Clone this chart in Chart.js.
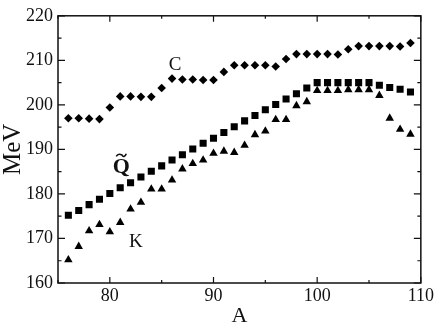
<!DOCTYPE html>
<html><head><meta charset="utf-8">
<script src="https://cdn.jsdelivr.net/npm/chart.js@4/dist/chart.umd.min.js"></script>
<style>html,body{margin:0;padding:0;background:#fff}#wrap{width:436px;height:327px}</style>
</head><body><div id="wrap"><canvas id="c" width="436" height="327"></canvas></div>
<script>
const massNumbers = [76,77,78,79,80,81,82,83,84,85,86,87,88,89,90,91,92,93,94,95,96,97,98,99,100,101,102,103,104,105,106,107,108,109];
const seriesC = [197.0,197.0,196.9,196.8,199.4,201.9,201.9,201.8,201.8,203.8,205.9,205.7,205.7,205.6,205.6,207.4,208.9,208.9,208.9,208.9,208.6,210.3,211.4,211.4,211.4,211.4,211.3,212.5,213.2,213.2,213.2,213.2,213.1,213.9];
const seriesQ = [175.2,176.3,177.6,178.8,180.1,181.4,182.5,183.8,185.1,186.3,187.6,188.8,190.1,191.4,192.5,193.8,195.1,196.4,197.6,198.9,200.1,201.3,202.5,203.8,205.0,205.0,205.0,205.0,205.0,205.0,204.4,203.9,203.5,202.9];
const seriesK = [165.2,168.2,171.7,173.1,171.5,173.6,176.6,178.1,181.1,181.1,183.1,185.6,186.8,187.6,189.1,189.6,189.3,190.9,193.3,194.1,196.7,196.7,199.8,200.7,203.2,203.2,203.2,203.4,203.4,203.4,202.1,197.0,194.5,193.4];
const xTickLabels = [80,90,100,110];
const yTickLabels = [160,170,180,190,200,210,220];
const xMinorTicks = [75,85,95,105];
const yMinorTicks = [165,175,185,195,205,215];
const curveLabels = [
  {text:'C', a:86.3, v:208.9, bold:false, tilde:false},
  {text:'Q', a:81.1, v:186.0, bold:true, tilde:true},
  {text:'K', a:82.5, v:169.3, bold:false, tilde:false}
];

const SERIF = '"Liberation Serif", "Times New Roman", serif';
const pts = (ys) => massNumbers.map((a,i)=>({x:a,y:ys[i]}));

const framePlugin = {
  id:'frame',
  afterDatasetsDraw(chart){
    const ctx = chart.ctx, ca = chart.chartArea;
    const xs = chart.scales.x, ys = chart.scales.y;
    ctx.save();
    ctx.strokeStyle = '#111';
    ctx.lineWidth = 1.5;
    ctx.strokeRect(ca.left, ca.top, ca.right-ca.left, ca.bottom-ca.top);
    ctx.lineWidth = 1.2;
    ctx.beginPath();
    const hx = (v,len)=>{const p = xs.getPixelForValue(v);
      ctx.moveTo(p, ca.bottom); ctx.lineTo(p, ca.bottom-len);
      ctx.moveTo(p, ca.top); ctx.lineTo(p, ca.top+len);};
    const hy = (v,len)=>{const p = ys.getPixelForValue(v);
      ctx.moveTo(ca.left, p); ctx.lineTo(ca.left+len, p);
      ctx.moveTo(ca.right, p); ctx.lineTo(ca.right-len, p);};
    xTickLabels.forEach(v=>hx(v,6));
    xMinorTicks.forEach(v=>hx(v,3));
    yTickLabels.forEach(v=>hy(v,7));
    yMinorTicks.forEach(v=>hy(v,3.5));
    ctx.stroke();
    // curve labels
    ctx.fillStyle = '#111';
    ctx.textAlign = 'center';
    ctx.textBaseline = 'middle';
    curveLabels.forEach(l=>{
      const px = xs.getPixelForValue(l.a), py = ys.getPixelForValue(l.v);
      ctx.font = (l.bold?'bold 22px ':'19px ') + SERIF;
      ctx.fillText(l.text, px, py);
      if (l.tilde){
        const ty = py - 12;
        ctx.beginPath();
        ctx.lineWidth = 1.6;
        ctx.moveTo(px-5, ty+1.2);
        ctx.bezierCurveTo(px-3, ty-2.5, px+0, ty-0.5, px+1, ty);
        ctx.bezierCurveTo(px+2, ty+2.5, px+4, ty+1, px+5, ty-1.5);
        ctx.stroke();
      }
    });
    ctx.restore();
  }
};

new Chart(document.getElementById('c'), {
  type:'scatter',
  data:{datasets:[
    {label:'C', data:pts(seriesC), pointStyle:'rectRot', pointRadius:4.3, backgroundColor:'#000', borderColor:'#000', borderWidth:0},
    {label:'Q', data:pts(seriesQ), pointStyle:'rect', pointRadius:5, backgroundColor:'#000', borderColor:'#000', borderWidth:0},
    {label:'K', data:pts(seriesK), pointStyle:'triangle', pointRadius:4.9, backgroundColor:'#000', borderColor:'#000', borderWidth:0}
  ]},
  options:{
    responsive:false, animation:false, devicePixelRatio:1,
    layout:{padding:{left:0, right:15, top:7, bottom:0}},
    plugins:{legend:{display:false}, tooltip:{enabled:false}},
    scales:{
      x:{type:'linear', min:75, max:110,
        grid:{display:false, drawTicks:false}, border:{display:false},
        afterBuildTicks:(s)=>{s.ticks = xTickLabels.map(v=>({value:v}));},
        afterFit:(s)=>{s.height = 44;},
        ticks:{color:'#111', padding:2, maxRotation:0, font:{family:SERIF, size:18}},
        title:{display:true, text:'A', color:'#111', padding:0, font:{family:SERIF, size:22, lineHeight:1}}
      },
      y:{type:'linear', min:160, max:220,
        grid:{display:false, drawTicks:false}, border:{display:false},
        afterBuildTicks:(s)=>{s.ticks = yTickLabels.map(v=>({value:v}));},
        afterFit:(s)=>{s.width = 58;},
        ticks:{color:'#111', padding:5, font:{family:SERIF, size:18}},
        title:{display:true, text:'MeV', color:'#111', padding:0, font:{family:SERIF, size:25, lineHeight:1.05}}
      }
    }
  },
  plugins:[framePlugin]
});
</script></body></html>
